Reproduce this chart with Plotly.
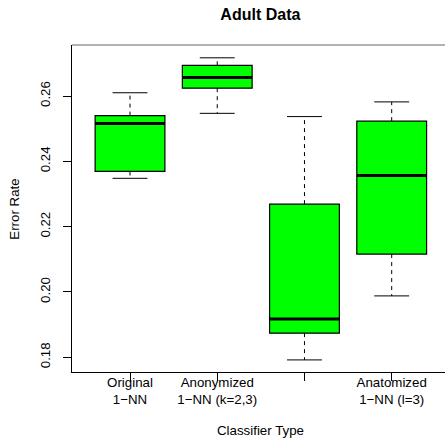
import plotly.graph_objects as go

# ---- data ----
categories = ["Original<br>1\u2212NN", "Anonymized<br>1\u2212NN (k=2,3)", "", "Anatomized<br>1\u2212NN (l=3)"]
positions = [1, 2, 3, 4]
lower_whisker = [0.2348, 0.2547, 0.1792, 0.1988]
q1 = [0.2369, 0.2624, 0.1874, 0.2116]
median = [0.2516, 0.2657, 0.1917, 0.2357]
q3 = [0.2540, 0.2694, 0.2269, 0.2523]
upper_whisker = [0.2610, 0.2717, 0.2537, 0.2582]
y_ticks = [0.18, 0.20, 0.22, 0.24, 0.26]

FONT = "Liberation Sans, Arial, sans-serif"
FS = 13.3
BOX_W = 0.8
CAP_W = 0.4

fig = go.Figure()

# dashed whiskers
wx, wy = [], []
for p, lo, a, b, hi in zip(positions, lower_whisker, q1, q3, upper_whisker):
    wx += [p, p, None, p, p, None]
    wy += [b, hi, None, a, lo, None]
fig.add_trace(go.Scatter(x=wx, y=wy, mode="lines", hoverinfo="skip",
                         line=dict(color="black", width=1, dash="4px,4px"), showlegend=False))

# staples
cx, cy = [], []
for p, lo, hi in zip(positions, lower_whisker, upper_whisker):
    cx += [p - CAP_W / 2, p + CAP_W / 2, None, p - CAP_W / 2, p + CAP_W / 2, None]
    cy += [hi, hi, None, lo, lo, None]
fig.add_trace(go.Scatter(x=cx, y=cy, mode="lines", hoverinfo="skip",
                         line=dict(color="black", width=1), showlegend=False))

# boxes
fig.add_trace(go.Box(x=positions, q1=q1, median=median, q3=q3,
                     lowerfence=q1, upperfence=q3, width=BOX_W,
                     fillcolor="#00FF00", line=dict(color="black", width=1.2),
                     whiskerwidth=0, showlegend=False))

# thick medians
mx, my = [], []
for p, m in zip(positions, median):
    mx += [p - BOX_W / 2, p + BOX_W / 2, None]
    my += [m, m, None]
fig.add_trace(go.Scatter(x=mx, y=my, mode="lines", hoverinfo="skip",
                         line=dict(color="black", width=3), showlegend=False))

fig.update_layout(
    width=445, height=441,
    margin=dict(l=72, r=0, t=45, b=69),
    paper_bgcolor="white", plot_bgcolor="white",
    font=dict(family=FONT, size=FS, color="black"),
    title=dict(text="Adult Data", x=0.505, xref="paper", xanchor="center",
               y=1 - 14 / 441, yref="container", yanchor="middle",
               font=dict(family=FONT, size=16, color="black", weight="bold")),
    xaxis=dict(range=[0.335, 4.611], tickvals=positions, ticktext=categories,
               automargin=False,
               showgrid=False, zeroline=False, showline=True, linecolor="black", linewidth=1,
               ticks="outside", ticklen=8, tickcolor="black", ticklabelstandoff=-10,
               tickfont=dict(family=FONT, size=FS, color="black")),
    yaxis=dict(range=[0.1755, 0.27562], tickvals=y_ticks,
               ticktext=[f"{v:.2f}" for v in y_ticks],
               automargin=False,
               showgrid=False, zeroline=False, showline=True, linecolor="black", linewidth=1,
               ticks="outside", ticklen=8, tickcolor="black", tickangle=-90,
               ticklabelstandoff=8,
               tickfont=dict(family=FONT, size=FS, color="black")),
    shapes=[dict(type="line", xref="paper", yref="paper", x0=0, x1=1, y0=1, y1=1,
                 line=dict(color="#666666", width=1))],
    annotations=[
        dict(text="Classifier Type", xref="paper", yref="paper", x=0.505, y=-58.5 / 327,
             xanchor="center", yanchor="middle", showarrow=False,
             font=dict(family=FONT, size=FS, color="black")),
        dict(text="Error Rate", xref="paper", yref="paper", x=(14.7 - 72) / 373, y=(372 - 209) / 327,
             xanchor="center", yanchor="middle", showarrow=False, textangle=-90,
             font=dict(family=FONT, size=FS, color="black")),
    ],
)

fig.write_html("out.html", config={"displayModeBar": False},
               post_script="document.body.style.margin='0';document.body.style.overflow='hidden';")
